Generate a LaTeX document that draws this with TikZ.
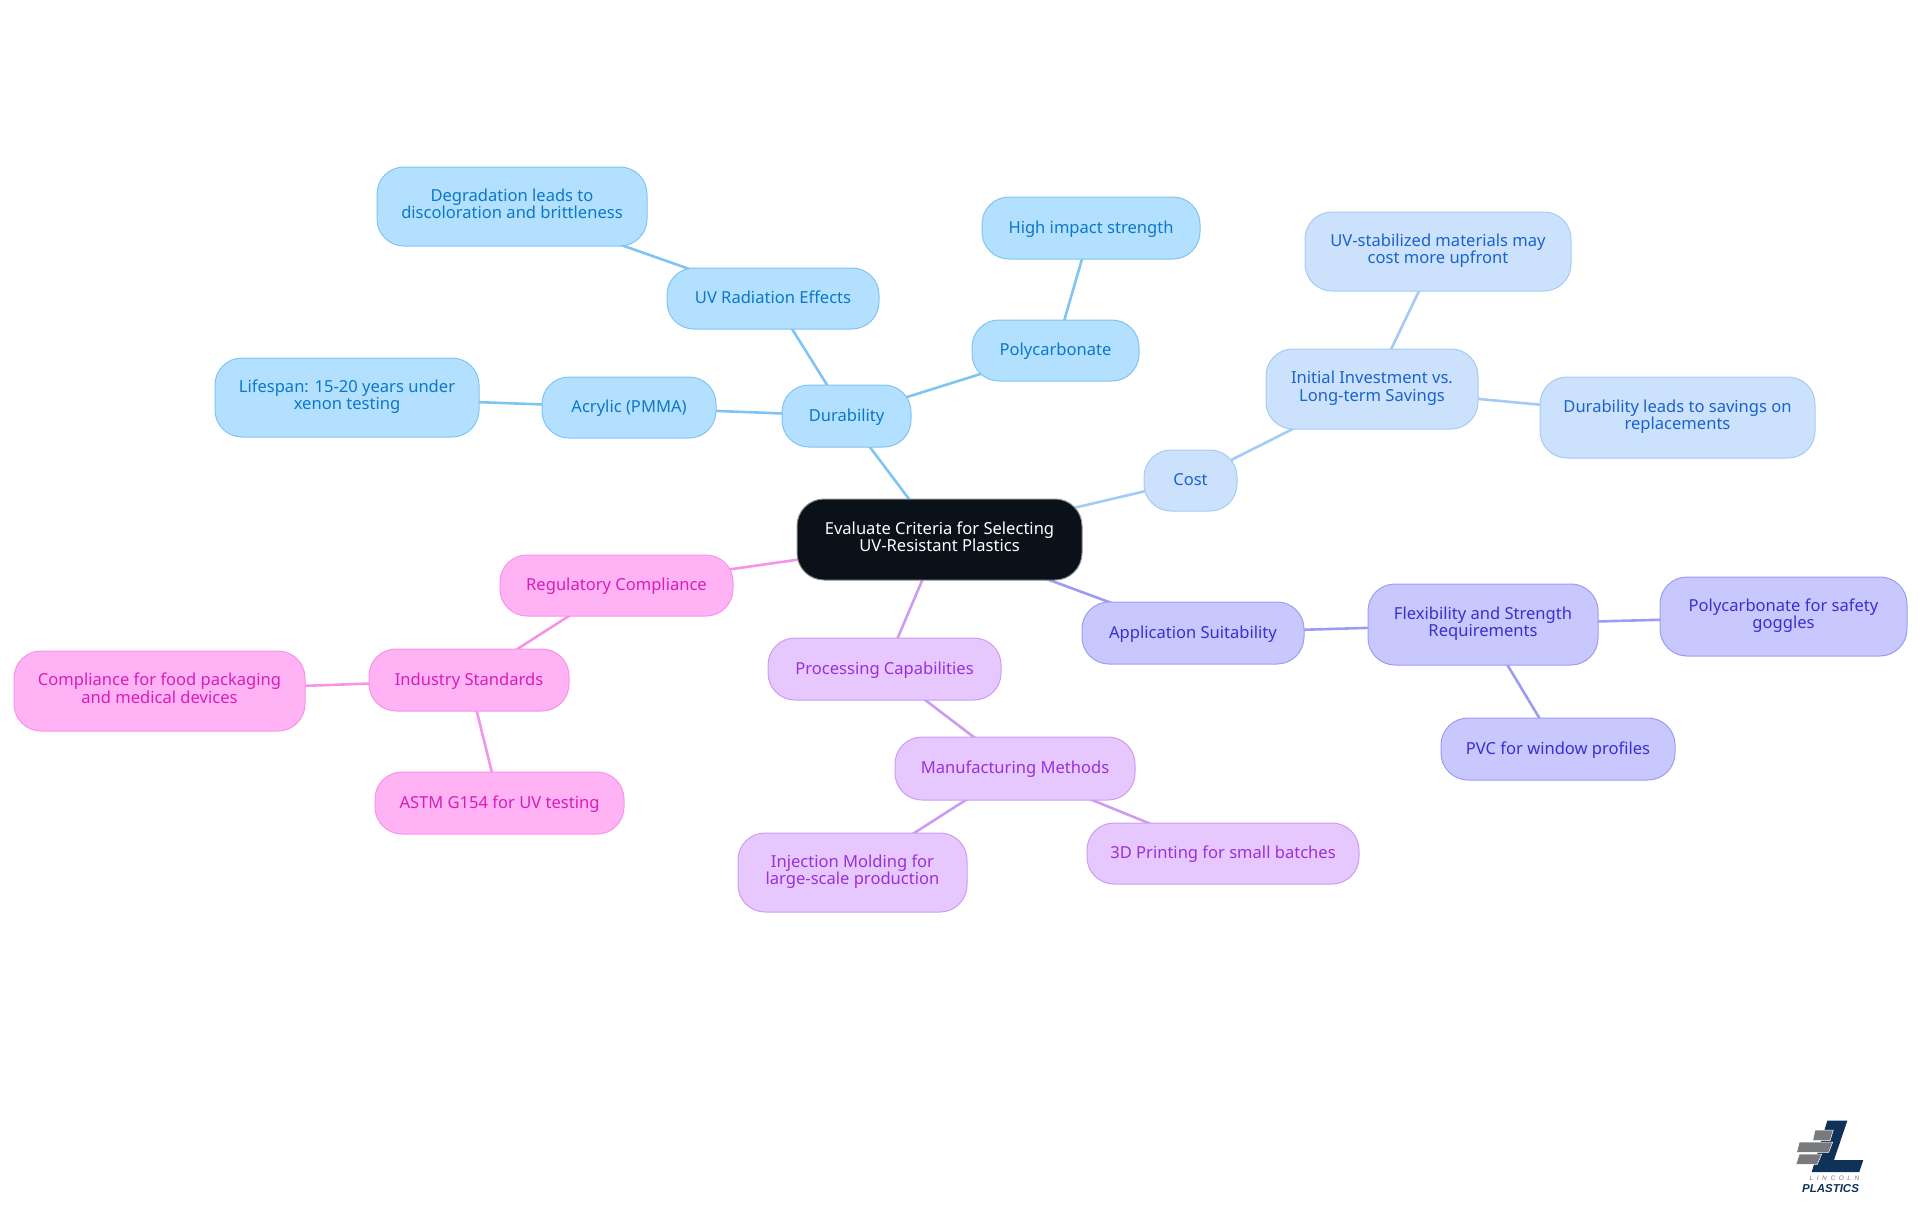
\documentclass[tikz,border=0pt]{standalone}
\usepackage{fontspec}
\setmainfont{Noto Sans}
\newfontfamily\logofont{Liberation Sans}
\usetikzlibrary{backgrounds}
\definecolor{rootF}{HTML}{0B1119}\definecolor{rootD}{HTML}{8A8D91}
\definecolor{aF}{HTML}{B3E0FF}\definecolor{aD}{HTML}{80C4F2}\definecolor{aT}{HTML}{0B78C8}
\definecolor{bF}{HTML}{CCE2FC}\definecolor{bD}{HTML}{A3CBF6}\definecolor{bT}{HTML}{1A62CC}
\definecolor{cF}{HTML}{C8C8FF}\definecolor{cD}{HTML}{9C9CF2}\definecolor{cT}{HTML}{3A30CC}
\definecolor{dF}{HTML}{E6C8FF}\definecolor{dD}{HTML}{CC9CF2}\definecolor{dT}{HTML}{9A30D8}
\definecolor{eF}{HTML}{FFB3F5}\definecolor{eD}{HTML}{F594E8}\definecolor{eT}{HTML}{D81CB8}
\definecolor{logoB}{HTML}{0F3358}\definecolor{logoG}{HTML}{787A7D}
\tikzset{
  x=1pt,y=1pt,
  mapbox/.style={rounded corners=27pt,inner sep=0pt,align=center,line width=1pt,
    font=\fontsize{16.55}{17.7}\selectfont,
    execute at begin node={\rule{0pt}{15.5pt}},
    execute at end node={\rule[-5.5pt]{0pt}{0pt}}},
  rootbox/.style={mapbox,fill=rootF,draw=rootD,text=white},
  abox/.style={mapbox,fill=aF,draw=aD,text=aT},
  bbox/.style={mapbox,fill=bF,draw=bD,text=bT},
  cbox/.style={mapbox,fill=cF,draw=cD,text=cT},
  dbox/.style={mapbox,fill=dF,draw=dD,text=dT},
  ebox/.style={mapbox,fill=eF,draw=eD,text=eT},
  link/.style={line width=2.6pt},
  logobar/.style={fill=logoG,draw=white,line width=0.5pt}
}
\newcommand{\mapnode}[7]{%
  \pgfmathsetmacro{\mcx}{(#3+#4)/2}\pgfmathsetmacro{\mcy}{-(#5+#6)/2}%
  \pgfmathsetmacro{\mw}{#4-#3}\pgfmathsetmacro{\mh}{#6-#5}%
  \node[#2,minimum width=\mw pt,minimum height=\mh pt] (#1) at (\mcx,\mcy) {#7};}
\begin{document}
\begin{tikzpicture}
\useasboundingbox (0,0) rectangle (1920,-1215);
\mapnode{root}{rootbox}{797}{1082}{499}{580}{Evaluate Criteria for Selecting\\UV-Resistant Plastics}
\mapnode{dur}{abox}{782}{911}{385}{447}{Durability}
\mapnode{poly}{abox}{972}{1139}{320}{381}{Polycarbonate}
\mapnode{high}{abox}{982}{1200}{197}{259}{High impact strength}
\mapnode{uvr}{abox}{667}{879}{268}{329}{UV Radiation Effects}
\mapnode{deg}{abox}{377}{647}{167}{246}{Degradation leads to\\discoloration and brittleness}
\mapnode{acr}{abox}{542}{716}{377}{438}{Acrylic (PMMA)}
\mapnode{life}{abox}{215}{479}{358}{437}{Lifespan: 15-20 years under\\xenon testing}
\mapnode{cost}{bbox}{1144}{1237}{450}{511}{Cost}
\mapnode{init}{bbox}{1266}{1478}{349}{429}{Initial Investment vs.\\Long-term Savings}
\mapnode{stab}{bbox}{1305}{1571}{212}{291}{UV-stabilized materials may\\cost more upfront}
\mapnode{save}{bbox}{1540}{1815}{377}{458}{Durability leads to savings on\\replacements}
\mapnode{app}{cbox}{1082}{1304}{602}{664}{Application Suitability}
\mapnode{flex}{cbox}{1368}{1598}{584}{665}{Flexibility and Strength\\Requirements}
\mapnode{gog}{cbox}{1660}{1907}{577}{656}{Polycarbonate for safety\\goggles}
\mapnode{pvc}{cbox}{1441}{1675}{718}{780}{PVC for window profiles}
\mapnode{proc}{dbox}{768}{1001}{638}{700}{Processing Capabilities}
\mapnode{manu}{dbox}{895}{1135}{737}{800}{Manufacturing Methods}
\mapnode{inj}{dbox}{738}{967}{833}{912}{Injection Molding for\\large-scale production}
\mapnode{print}{dbox}{1087}{1359}{823}{884}{3D Printing for small batches}
\mapnode{reg}{ebox}{500}{733}{555}{616}{Regulatory Compliance}
\mapnode{ind}{ebox}{369}{569}{649}{711}{Industry Standards}
\mapnode{comp}{ebox}{14}{305}{651}{731}{Compliance for food packaging\\and medical devices}
\mapnode{astm}{ebox}{375}{624}{772}{834}{ASTM G154 for UV testing}
\begin{scope}[on background layer]
\draw[link,aD] (root.center) -- (dur.center);
\draw[link,aD] (dur.center) -- (poly.center);
\draw[link,aD] (poly.center) -- (high.center);
\draw[link,aD] (dur.center) -- (uvr.center);
\draw[link,aD] (uvr.center) -- (deg.center);
\draw[link,aD] (dur.center) -- (acr.center);
\draw[link,aD] (acr.center) -- (life.center);
\draw[link,bD] (root.center) -- (cost.center);
\draw[link,bD] (cost.center) -- (init.center);
\draw[link,bD] (init.center) -- (stab.center);
\draw[link,bD] (init.center) -- (save.center);
\draw[link,cD] (root.center) -- (app.center);
\draw[link,cD] (app.center) -- (flex.center);
\draw[link,cD] (flex.center) -- (gog.center);
\draw[link,cD] (flex.center) -- (pvc.center);
\draw[link,dD] (root.center) -- (proc.center);
\draw[link,dD] (proc.center) -- (manu.center);
\draw[link,dD] (manu.center) -- (inj.center);
\draw[link,dD] (manu.center) -- (print.center);
\draw[link,eD] (root.center) -- (reg.center);
\draw[link,eD] (reg.center) -- (ind.center);
\draw[link,eD] (ind.center) -- (comp.center);
\draw[link,eD] (ind.center) -- (astm.center);
\end{scope}
% logo
\fill[logoB] (1827.3,-1120.7) -- (1847.3,-1120.7) -- (1834,-1160) -- (1863.3,-1160) -- (1859.3,-1172) -- (1811.7,-1172) -- cycle;
\filldraw[logobar] (1815,-1130) -- (1833.3,-1130) -- (1830,-1140.7) -- (1812.7,-1140.7) -- cycle;
\filldraw[logobar] (1799.3,-1142) -- (1832.7,-1142) -- (1828.7,-1152.3) -- (1796.7,-1152.3) -- cycle;
\filldraw[logobar] (1799.3,-1154) -- (1821.7,-1154) -- (1817.3,-1164.3) -- (1796,-1164.3) -- cycle;
\node[inner sep=0pt,text=logoG,font=\fontsize{6.5}{7}\selectfont\logofont\itshape] (logoa) at (1834.5,-1178.3) {L\hskip3.6pt I\hskip3.6pt N\hskip3.6pt C\hskip3.6pt O\hskip3.6pt L\hskip3.6pt N};
\node[inner sep=0pt,text=logoB,font=\fontsize{11.5}{12}\selectfont\logofont\bfseries\itshape] (logob) at (1830.5,-1188.7) {PLASTICS};
\end{tikzpicture}
\end{document}
